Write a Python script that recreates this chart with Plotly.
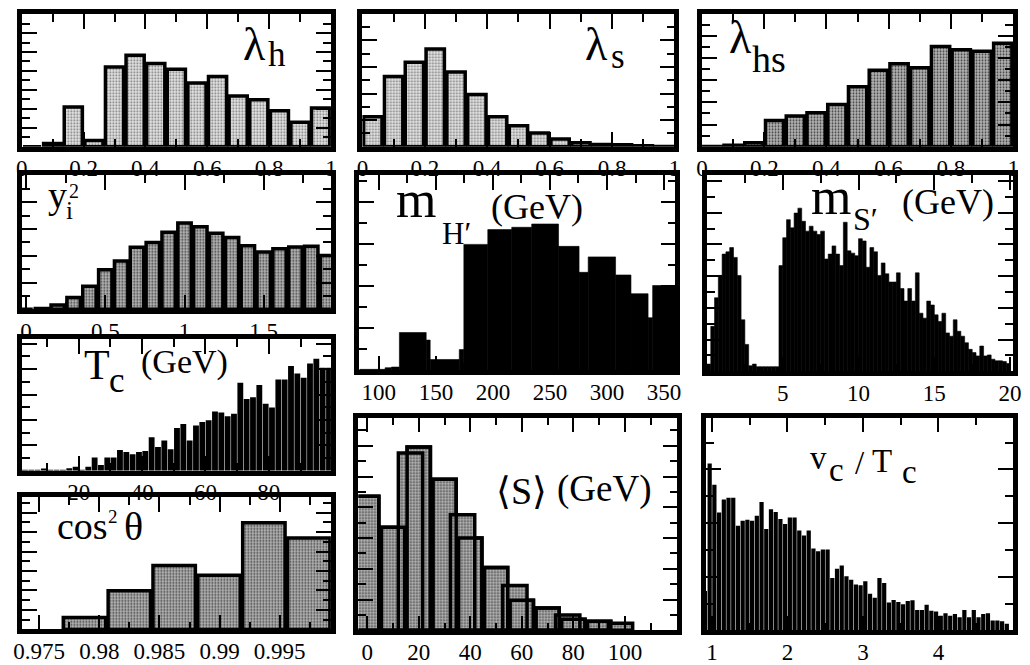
import numpy as np
import plotly.graph_objects as go

W, H = 1030, 665

# ---------------- data: histogram counts (arbitrary units) ----------------
lam_bin0, lam_binw = 0.0, 1.0 / 15
lam_h_counts = [0, 10, 122, 19, 244, 280, 255, 237, 195, 215, 155, 144, 110, 75, 119]
lam_s_counts = [92, 215, 259, 299, 229, 160, 92, 64, 42, 24, 12, 7, 6, 3, 1]
lam_hs_counts = [1, 5, 12, 80, 94, 104, 129, 184, 234, 254, 242, 307, 297, 292, 317]

yi2_bin0, yi2_binw = -0.05, 0.1
yi2_counts = [0, 2, 13, 36, 71, 121, 148, 190, 205, 236, 265, 253, 233, 220, 195, 176, 186, 191, 193, 165]

mH_edges = [83, 105.5, 111, 118, 141.5, 145, 170.5, 174.5, 195.5, 216.5, 234, 257.5,
            275.5, 283.5, 307.5, 321, 336, 340, 361]
mH_counts = [3, 8, 10, 115, 92, 33, 63, 383, 428, 435, 445, 377, 298, 345, 290, 233, 160, 258]

mS_bin0, mS_binw = 0.0, 0.25
mS_counts = [22, 137, 224, 292, 357, 364, 377, 347, 292, 157, 82, 17, 22, 14, 14, 14, 14, 14, 14, 322,
             407, 462, 437, 482, 497, 457, 427, 442, 427, 417, 427, 342, 357, 382, 357, 322, 454, 367, 360, 352,
             404, 397, 317, 377, 364, 292, 330, 297, 272, 272, 300, 252, 214, 252, 214, 300, 177, 162, 214, 202,
             172, 152, 177, 117, 107, 157, 122, 107, 87, 67, 57, 47, 77, 47, 50, 37, 32, 32, 30, 24]

Tc_bin0, Tc_binw = 2.0, 2.0
Tc_counts = [3, 3, 3, 7, 3, 3, 3, 8, 12, 3, 12, 40, 18, 40, 40, 63, 57, 50, 57, 60,
             102, 72, 92, 65, 130, 142, 92, 137, 148, 153, 180, 177, 165, 173, 267, 218, 223, 260, 203, 192,
             277, 277, 318, 295, 282, 325, 340, 312, 312]

cos_bin0, cos_binw = 0.9769, 0.00373
cos_counts = [37, 119, 197, 167, 329, 282]

S_a_centers = [0, 10, 20, 30, 40, 50, 60, 70, 80, 90]
S_a_width = 10.0
S_a_counts = [410, 315, 560, 462, 282, 192, 92, 68, 34, 28]
S_b_centers = [16.8, 37.0, 57.3, 77.8, 98.3]
S_b_width = 10.4
S_b_counts = [542, 353, 137, 47, 22]

vT_bin0, vT_binw = 0.875, 0.0625
vT_counts = [120, 510, 445, 360, 400, 405, 405, 320, 335, 338, 335, 350, 392, 310, 370, 362, 340, 325, 345, 345,
             305, 290, 305, 250, 242, 247, 247, 160, 188, 198, 165, 155, 140, 138, 150, 112, 100, 160, 145, 85,
             93, 87, 80, 90, 92, 62, 62, 78, 60, 58, 45, 52, 45, 50, 40, 62, 40, 62, 40, 50,
             52, 30, 30, 28, 20]

# ---------------- tick values / labels (major = labelled, minor = unlabelled) ----------------
lam_tickvals = [0, 0.2, 0.4, 0.6, 0.8, 1.0]
lam_ticktext = ["0", "0.2", "0.4", "0.6", "0.8", "1"]
lam_minor = [0.1, 0.3, 0.5, 0.7, 0.9]
yi2_tickvals = [0, 0.5, 1.0, 1.5]
yi2_ticktext = ["0", "0.5", "1", "1.5"]
yi2_minor = [0.25, 0.75, 1.25, 1.75]
mH_tickvals = [100, 150, 200, 250, 300, 350]
mH_ticktext = ["100", "150", "200", "250", "300", "350"]
mH_minor = [125, 175, 225, 275, 325]
mS_tickvals = [5, 10, 15, 20]
mS_ticktext = ["5", "10", "15", "20"]
mS_minor = [2.5, 7.5, 12.5, 17.5]
Tc_tickvals = [20, 40, 60, 80]
Tc_ticktext = ["20", "40", "60", "80"]
Tc_minor = [10, 30, 50, 70, 90]
cos_tickvals = [0.975, 0.98, 0.985, 0.99, 0.995]
cos_ticktext = ["0.975", "0.98", "0.985", "0.99", "0.995"]
cos_minor = [0.9775, 0.9825, 0.9875, 0.9925, 0.9975]
S_tickvals = [0, 20, 40, 60, 80, 100]
S_ticktext = ["0", "20", "40", "60", "80", "100"]
S_minor = [10, 30, 50, 70, 90, 110]
vT_tickvals = [1, 2, 3, 4]
vT_ticktext = ["1", "2", "3", "4"]
vT_minor = [1.5, 2.5, 3.5, 4.5]

# ---------------- layout geometry (pixel frames) ----------------
panels = {
    1: dict(box=(14, 328, 14, 149), xr=[0, 1], yr=[0, 407], ydt=29, tv=lam_tickvals, tt=lam_ticktext, mv=lam_minor),
    2: dict(box=(360, 677, 14, 149), xr=[0, 1], yr=[0, 407], ydt=40.7, tv=lam_tickvals, tt=lam_ticktext, mv=lam_minor),
    3: dict(box=(705, 1021, 14, 149), xr=[0, 1], yr=[0, 407], ydt=34, tv=lam_tickvals, tt=lam_ticktext, mv=lam_minor),
    4: dict(box=(14, 328, 178, 314), xr=[-0.027, 1.924], yr=[0, 411], ydt=41, tv=yi2_tickvals, tt=yi2_ticktext, mv=yi2_minor),
    5: dict(box=(357, 678, 178, 376), xr=[83, 360], yr=[0, 593], ydt=64, tv=mH_tickvals, tt=mH_ticktext, mv=mH_minor),
    6: dict(box=(710, 1021, 178, 377), xr=[0, 20.2], yr=[0, 597], ydt=48.3, tv=mS_tickvals, tt=mS_ticktext, mv=mS_minor),
    7: dict(box=(14, 328, 344, 478), xr=[2, 99.6], yr=[0, 400], ydt=38.5, tv=Tc_tickvals, tt=Tc_ticktext, mv=Tc_minor),
    8: dict(box=(14, 328, 505, 639), xr=[0.97355, 0.99926], yr=[0, 407], ydt=30, tv=cos_tickvals, tt=cos_ticktext, mv=cos_minor),
    9: dict(box=(356, 680, 424, 640), xr=[-3.4, 120.4], yr=[0, 650], ydt=47, tv=S_tickvals, tt=S_ticktext, mv=S_minor),
    10: dict(box=(709, 1021, 424, 640), xr=[0.92, 4.99], yr=[0, 650], ydt=82, tv=vT_tickvals, tt=vT_ticktext, mv=vT_minor),
}

SERIF = "Liberation Serif"


def px_per_unit(i):
    x0, x1, _, _ = panels[i]["box"]
    a, b = panels[i]["xr"]
    return (x1 - x0) / (b - a)


def outlined(fill_bg, fill_fg):
    return dict(color=fill_bg, line=dict(color="black", width=3.5),
                pattern=dict(shape=".", fgcolor=fill_fg, bgcolor=fill_bg, size=3, solidity=0.3,
                             fillmode="replace"))


LIGHT = outlined("#e4e4e4", "#777777")
DARK = outlined("#b4b4b4", "#3c3c3c")
BLACK = dict(color="black", line=dict(color="black", width=0.6))
BLACKGAP = dict(color="black", line=dict(width=0))

OUTLINE_GAP_PX = 2.5

fig = go.Figure()


def add_bars(i, centers, counts, widths, marker):
    fig.add_trace(go.Bar(x=centers, y=counts, width=widths, marker=marker,
                         xaxis="x%d" % i, yaxis="y%d" % i, hoverinfo="skip"))


def uniform_bars(i, bin0, binw, counts, marker, gap_px=0.0):
    n = len(counts)
    centers = [bin0 + binw * (k + 0.5) for k in range(n)]
    w = binw - gap_px / px_per_unit(i)
    add_bars(i, centers, counts, [w] * n, marker)


def edge_bars(i, edges, counts, marker):
    centers = [(a + b) / 2 for a, b in zip(edges[:-1], edges[1:])]
    widths = [b - a for a, b in zip(edges[:-1], edges[1:])]
    add_bars(i, centers, counts, widths, marker)


uniform_bars(1, lam_bin0, lam_binw, lam_h_counts, LIGHT, OUTLINE_GAP_PX)
uniform_bars(2, lam_bin0, lam_binw, lam_s_counts, LIGHT, OUTLINE_GAP_PX)
uniform_bars(3, lam_bin0, lam_binw, lam_hs_counts, DARK, OUTLINE_GAP_PX)
uniform_bars(4, yi2_bin0, yi2_binw, yi2_counts, DARK, OUTLINE_GAP_PX)
edge_bars(5, mH_edges, mH_counts, BLACK)
uniform_bars(6, mS_bin0, mS_binw, mS_counts, BLACK)
uniform_bars(7, Tc_bin0, Tc_binw, Tc_counts, BLACKGAP, 0.5)
uniform_bars(8, cos_bin0, cos_binw, cos_counts, DARK, OUTLINE_GAP_PX)
gS = OUTLINE_GAP_PX / px_per_unit(9)
add_bars(9, S_a_centers, S_a_counts, [S_a_width - gS] * len(S_a_centers), DARK)
add_bars(9, S_b_centers, S_b_counts, [S_b_width - gS] * len(S_b_centers), DARK)
add_bars(9, S_a_centers, S_a_counts, [S_a_width - gS] * len(S_a_centers),
         dict(color="rgba(0,0,0,0)", line=dict(color="black", width=3.5)))
uniform_bars(10, vT_bin0, vT_binw, vT_counts, BLACKGAP, 0.5)

layout = dict(width=W, height=H, margin=dict(l=0, r=0, t=0, b=0), paper_bgcolor="white",
              plot_bgcolor="white", showlegend=False, barmode="overlay")

for i, p in panels.items():
    x0, x1, y0, y1 = p["box"]
    common = dict(showline=True, linewidth=4.5, linecolor="black", mirror="ticks", ticks="inside",
                  tickcolor="black", tickwidth=1.6, ticklen=15, showgrid=False, zeroline=False,
                  fixedrange=True)
    minor_common = dict(ticks="inside", ticklen=8, tickcolor="black", tickwidth=1.6, showgrid=False)
    layout["xaxis%d" % i] = dict(common, domain=[x0 / W, x1 / W], range=p["xr"], anchor="y%d" % i,
                                 tickmode="array", tickvals=p["tv"], ticktext=p["tt"],
                                 ticklabelstandoff=-3,
                                 minor=dict(minor_common, tickmode="array", tickvals=p["mv"]),
                                 tickfont=dict(family=SERIF, size=23, color="black"))
    layout["yaxis%d" % i] = dict(common, domain=[1 - y1 / H, 1 - y0 / H], range=p["yr"], anchor="x%d" % i,
                                 tick0=0, dtick=2 * p["ydt"], showticklabels=False,
                                 minor=dict(minor_common, tick0=0, dtick=p["ydt"]))

fig.update_layout(**layout)

# ---------------- labels (pixel positions: left edge, vertical centre of text box) ----------------
labels = [
    (238, 45, "λ", 46), (263, 55, "h", 35),
    (585, 45, "λ", 46), (612, 57, "s", 35),
    (731, 38, "λ", 46), (755, 60, "hs", 38),
    (40, 198, "y", 38), (58, 214, "i", 25), (61, 194, "2", 20),
    (393, 203, "m", 52), (440, 237, "H′", 31), (490, 210, "(GeV)", 36),
    (815, 200, "m", 52), (857, 222, "S′", 32), (907, 205, "(GeV)", 36),
    (76, 371, "T", 42), (102, 386, "c", 35), (134, 368, "(GeV)", 34),
    (49, 534, "cos", 38), (101, 524, "2", 19), (117, 535, "θ", 40),
    (495, 499, "⟨S⟩", 38), (557, 496, "(GeV)", 37),
    (814, 465, "v", 33), (833, 477, "c", 33), (859, 470, "/", 33), (877, 468, "T", 33), (907, 479, "c", 33),
]
for (px, py, s, sz) in labels:
    fig.add_annotation(x=px / W, y=1 - py / H, xref="paper", yref="paper", text=s, showarrow=False,
                       xanchor="left", yanchor="middle", borderpad=0,
                       font=dict(family=SERIF, size=sz, color="black"))

fig.write_html("out.html")
